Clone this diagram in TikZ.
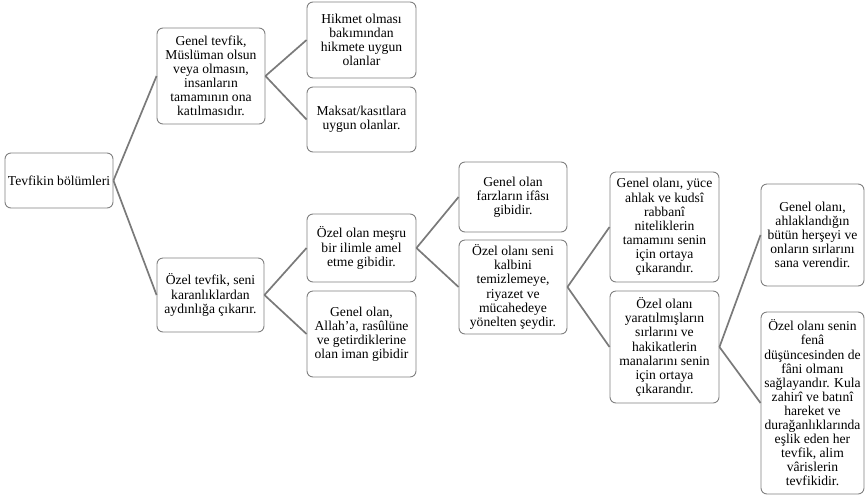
\documentclass[tikz,border=0pt]{standalone}
\usepackage{fontspec}
\setmainfont{Liberation Serif}
\tikzset{
  box/.style={draw=black!50, line width=0.9pt, rounded corners=6pt, fill=white,
    align=center, inner sep=0pt, font=\fontsize{13.6}{14.1}\selectfont},
  link/.style={draw=black!52, line width=1.7pt}
}
\begin{document}
\begin{tikzpicture}[x=1pt,y=-1pt]
\useasboundingbox (0,0) rectangle (865,499);
\node[box, minimum width=108, minimum height=55] (root) at (59,180.5) {Tevfikin bölümleri};
\node[box, minimum width=108, minimum height=96] (gt) at (211,76) {Genel tevfik,\\Müslüman olsun\\veya olmasın,\\insanların\\tamamının ona\\katılmasıdır.};
\node[box, minimum width=109, minimum height=76] (hik) at (361.5,40) {Hikmet olması\\bakımından\\hikmete uygun\\olanlar};
\node[box, minimum width=109, minimum height=65] (mak) at (361.5,119.5) {Maksat/kasıtlara\\uygun olanlar.};
\node[box, minimum width=107, minimum height=74] (ot) at (210.5,295) {Özel tevfik, seni\\karanlıklardan\\aydınlığa çıkarır.};
\node[box, minimum width=109, minimum height=68] (om) at (361.5,248) {Özel olan meşru\\bir ilimle amel\\etme gibidir.};
\node[box, minimum width=109, minimum height=86] (ga) at (361.5,334) {Genel olan,\\Allah’a, rasûlüne\\ve getirdiklerine\\olan iman gibidir};
\node[box, minimum width=108, minimum height=70] (gf) at (513,197) {Genel olan\\farzların ifâsı\\gibidir.};
\node[box, minimum width=108, minimum height=94] (ok) at (513,287) {Özel olanı seni\\kalbini\\temizlemeye,\\riyazet ve\\mücahedeye\\yönelten şeydir.};
\node[box, minimum width=109, minimum height=110] (gy) at (664.5,227) {Genel olanı, yüce\\ahlak ve kudsî\\rabbanî\\niteliklerin\\tamamını senin\\için ortaya\\çıkarandır.};
\node[box, minimum width=109, minimum height=112] (oy) at (664.5,347) {Özel olanı\\yaratılmışların\\sırlarını ve\\hakikatlerin\\manalarını senin\\için ortaya\\çıkarandır.};
\node[box, minimum width=103, minimum height=102] (gah) at (812.5,235) {Genel olanı,\\ahlaklandığın\\bütün herşeyi ve\\onların sırlarını\\sana verendir.};
\node[box, minimum width=103, minimum height=182] (of) at (812.5,403) {Özel olanı senin\\fenâ\\düşüncesinden de\\fâni olmanı\\sağlayandır. Kula\\zahirî ve batınî\\hareket ve\\durağanlıklarında\\eşlik eden her\\tevfik, alim\\vârislerin\\tevfikidir.};
\draw[link] (root.east) -- (gt.west);
\draw[link] (root.east) -- (ot.west);
\draw[link] (gt.east) -- (hik.west);
\draw[link] (gt.east) -- (mak.west);
\draw[link] (ot.east) -- (om.west);
\draw[link] (ot.east) -- (ga.west);
\draw[link] (om.east) -- (gf.west);
\draw[link] (om.east) -- (ok.west);
\draw[link] (ok.east) -- (gy.west);
\draw[link] (ok.east) -- (oy.west);
\draw[link] (oy.east) -- (gah.west);
\draw[link] (oy.east) -- (of.west);
\end{tikzpicture}
\end{document}
